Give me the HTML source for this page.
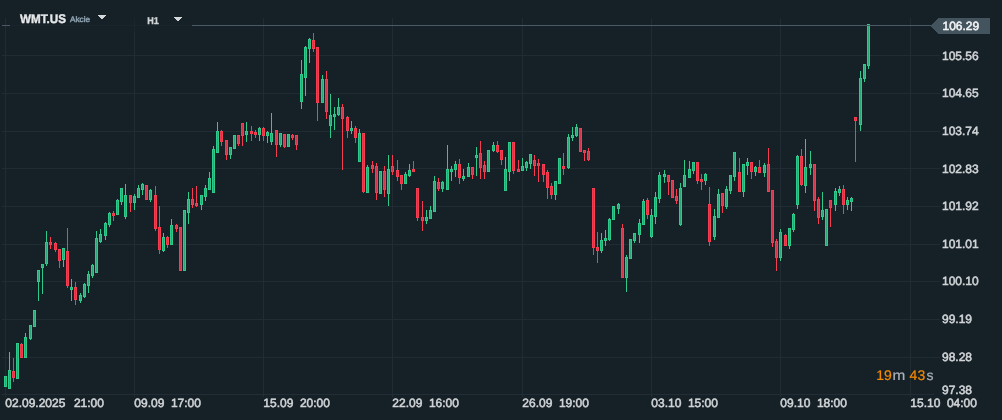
<!DOCTYPE html>
<html><head><meta charset="utf-8"><title>WMT.US H1</title>
<style>
html,body{margin:0;padding:0;background:#162027;}
body{width:1002px;height:420px;overflow:hidden;font-family:"Liberation Sans",sans-serif;}
svg{display:block;}
svg text{font-family:"Liberation Sans",sans-serif;text-rendering:geometricPrecision;}
</style></head><body>
<svg width="1002" height="420" viewBox="0 0 1002 420">
<defs><filter id="gaa" x="0" y="0" width="1002" height="420" filterUnits="userSpaceOnUse"><feOffset dx="0" dy="0"/></filter></defs>
<rect x="0" y="0" width="1002" height="420" fill="#162027"/>
<g shape-rendering="crispEdges">
<rect x="2" y="55" width="938" height="1" fill="#202b33"/>
<rect x="2" y="93" width="938" height="1" fill="#202b33"/>
<rect x="2" y="131" width="938" height="1" fill="#202b33"/>
<rect x="2" y="168" width="938" height="1" fill="#202b33"/>
<rect x="2" y="206" width="938" height="1" fill="#202b33"/>
<rect x="2" y="244" width="938" height="1" fill="#202b33"/>
<rect x="2" y="281" width="938" height="1" fill="#202b33"/>
<rect x="2" y="319" width="938" height="1" fill="#202b33"/>
<rect x="2" y="357" width="938" height="1" fill="#202b33"/>
<rect x="5" y="18" width="1" height="379" fill="#202b33"/>
<rect x="134" y="18" width="1" height="379" fill="#202b33"/>
<rect x="263" y="18" width="1" height="379" fill="#202b33"/>
<rect x="392" y="18" width="1" height="379" fill="#202b33"/>
<rect x="522" y="18" width="1" height="379" fill="#202b33"/>
<rect x="651" y="18" width="1" height="379" fill="#202b33"/>
<rect x="780" y="18" width="1" height="379" fill="#202b33"/>
<rect x="910" y="18" width="1" height="379" fill="#202b33"/>
<rect x="2" y="394" width="932" height="1" fill="#222d35"/>
<rect x="4" y="376" width="3" height="11" fill="#2fc98b"/>
<rect x="5" y="377" width="1" height="9" fill="#28a875"/>
<rect x="9" y="352" width="1" height="37" fill="#2fc98b"/>
<rect x="8" y="370" width="3" height="19" fill="#2fc98b"/>
<rect x="9" y="371" width="1" height="17" fill="#28a875"/>
<rect x="13" y="358" width="1" height="24" fill="#f63c51"/>
<rect x="12" y="371" width="3" height="7" fill="#f63c51"/>
<rect x="13" y="372" width="1" height="5" fill="#d5354b"/>
<rect x="16" y="343" width="3" height="36" fill="#2fc98b"/>
<rect x="17" y="344" width="1" height="34" fill="#28a875"/>
<rect x="21" y="343" width="1" height="15" fill="#f63c51"/>
<rect x="20" y="344" width="3" height="14" fill="#f63c51"/>
<rect x="21" y="345" width="1" height="12" fill="#d5354b"/>
<rect x="25" y="333" width="1" height="25" fill="#2fc98b"/>
<rect x="24" y="337" width="3" height="21" fill="#2fc98b"/>
<rect x="25" y="338" width="1" height="19" fill="#28a875"/>
<rect x="30" y="325" width="1" height="15" fill="#2fc98b"/>
<rect x="29" y="325" width="3" height="14" fill="#2fc98b"/>
<rect x="30" y="326" width="1" height="12" fill="#28a875"/>
<rect x="33" y="310" width="3" height="17" fill="#2fc98b"/>
<rect x="34" y="311" width="1" height="15" fill="#28a875"/>
<rect x="38" y="270" width="1" height="31" fill="#2fc98b"/>
<rect x="37" y="270" width="3" height="12" fill="#2fc98b"/>
<rect x="38" y="271" width="1" height="10" fill="#28a875"/>
<rect x="42" y="264" width="1" height="30" fill="#2fc98b"/>
<rect x="41" y="264" width="3" height="4" fill="#2fc98b"/>
<rect x="42" y="265" width="1" height="2" fill="#28a875"/>
<rect x="46" y="231" width="1" height="35" fill="#2fc98b"/>
<rect x="45" y="242" width="3" height="22" fill="#2fc98b"/>
<rect x="46" y="243" width="1" height="20" fill="#28a875"/>
<rect x="50" y="237" width="1" height="12" fill="#f63c51"/>
<rect x="49" y="242" width="3" height="3" fill="#f63c51"/>
<rect x="50" y="243" width="1" height="1" fill="#d5354b"/>
<rect x="55" y="242" width="1" height="10" fill="#f63c51"/>
<rect x="54" y="243" width="3" height="7" fill="#f63c51"/>
<rect x="55" y="244" width="1" height="5" fill="#d5354b"/>
<rect x="59" y="249" width="1" height="19" fill="#f63c51"/>
<rect x="58" y="249" width="3" height="12" fill="#f63c51"/>
<rect x="59" y="250" width="1" height="10" fill="#d5354b"/>
<rect x="63" y="248" width="1" height="19" fill="#2fc98b"/>
<rect x="62" y="248" width="3" height="12" fill="#2fc98b"/>
<rect x="63" y="249" width="1" height="10" fill="#28a875"/>
<rect x="67" y="228" width="1" height="60" fill="#f63c51"/>
<rect x="66" y="251" width="3" height="35" fill="#f63c51"/>
<rect x="67" y="252" width="1" height="33" fill="#d5354b"/>
<rect x="71" y="279" width="1" height="22" fill="#2fc98b"/>
<rect x="70" y="287" width="3" height="3" fill="#2fc98b"/>
<rect x="71" y="288" width="1" height="1" fill="#28a875"/>
<rect x="75" y="282" width="1" height="23" fill="#f63c51"/>
<rect x="74" y="287" width="3" height="13" fill="#f63c51"/>
<rect x="75" y="288" width="1" height="11" fill="#d5354b"/>
<rect x="80" y="293" width="1" height="10" fill="#2fc98b"/>
<rect x="79" y="295" width="3" height="6" fill="#2fc98b"/>
<rect x="80" y="296" width="1" height="4" fill="#28a875"/>
<rect x="84" y="283" width="1" height="15" fill="#2fc98b"/>
<rect x="83" y="284" width="3" height="13" fill="#2fc98b"/>
<rect x="84" y="285" width="1" height="11" fill="#28a875"/>
<rect x="88" y="271" width="1" height="22" fill="#2fc98b"/>
<rect x="87" y="274" width="3" height="12" fill="#2fc98b"/>
<rect x="88" y="275" width="1" height="10" fill="#28a875"/>
<rect x="92" y="264" width="1" height="14" fill="#2fc98b"/>
<rect x="91" y="265" width="3" height="11" fill="#2fc98b"/>
<rect x="92" y="266" width="1" height="9" fill="#28a875"/>
<rect x="96" y="231" width="1" height="42" fill="#2fc98b"/>
<rect x="95" y="238" width="3" height="35" fill="#2fc98b"/>
<rect x="96" y="239" width="1" height="33" fill="#28a875"/>
<rect x="100" y="229" width="1" height="14" fill="#2fc98b"/>
<rect x="99" y="234" width="3" height="8" fill="#2fc98b"/>
<rect x="100" y="235" width="1" height="6" fill="#28a875"/>
<rect x="105" y="222" width="1" height="18" fill="#2fc98b"/>
<rect x="104" y="223" width="3" height="13" fill="#2fc98b"/>
<rect x="105" y="224" width="1" height="11" fill="#28a875"/>
<rect x="109" y="212" width="1" height="15" fill="#2fc98b"/>
<rect x="108" y="213" width="3" height="12" fill="#2fc98b"/>
<rect x="109" y="214" width="1" height="10" fill="#28a875"/>
<rect x="113" y="211" width="1" height="10" fill="#f63c51"/>
<rect x="112" y="213" width="3" height="3" fill="#f63c51"/>
<rect x="113" y="214" width="1" height="1" fill="#d5354b"/>
<rect x="117" y="199" width="1" height="16" fill="#2fc98b"/>
<rect x="116" y="200" width="3" height="15" fill="#2fc98b"/>
<rect x="117" y="201" width="1" height="13" fill="#28a875"/>
<rect x="121" y="188" width="1" height="17" fill="#2fc98b"/>
<rect x="120" y="188" width="3" height="14" fill="#2fc98b"/>
<rect x="121" y="189" width="1" height="12" fill="#28a875"/>
<rect x="125" y="184" width="1" height="35" fill="#2fc98b"/>
<rect x="124" y="195" width="3" height="22" fill="#2fc98b"/>
<rect x="125" y="196" width="1" height="20" fill="#28a875"/>
<rect x="130" y="195" width="1" height="17" fill="#f63c51"/>
<rect x="129" y="195" width="3" height="8" fill="#f63c51"/>
<rect x="130" y="196" width="1" height="6" fill="#d5354b"/>
<rect x="134" y="194" width="1" height="16" fill="#2fc98b"/>
<rect x="133" y="196" width="3" height="7" fill="#2fc98b"/>
<rect x="134" y="197" width="1" height="5" fill="#28a875"/>
<rect x="138" y="185" width="1" height="13" fill="#2fc98b"/>
<rect x="137" y="188" width="3" height="10" fill="#2fc98b"/>
<rect x="138" y="189" width="1" height="8" fill="#28a875"/>
<rect x="142" y="183" width="1" height="12" fill="#2fc98b"/>
<rect x="141" y="184" width="3" height="6" fill="#2fc98b"/>
<rect x="142" y="185" width="1" height="4" fill="#28a875"/>
<rect x="145" y="185" width="3" height="15" fill="#f63c51"/>
<rect x="146" y="186" width="1" height="13" fill="#d5354b"/>
<rect x="150" y="189" width="1" height="13" fill="#2fc98b"/>
<rect x="149" y="190" width="3" height="10" fill="#2fc98b"/>
<rect x="150" y="191" width="1" height="8" fill="#28a875"/>
<rect x="155" y="186" width="1" height="45" fill="#f63c51"/>
<rect x="154" y="195" width="3" height="34" fill="#f63c51"/>
<rect x="155" y="196" width="1" height="32" fill="#d5354b"/>
<rect x="159" y="206" width="1" height="48" fill="#f63c51"/>
<rect x="158" y="227" width="3" height="23" fill="#f63c51"/>
<rect x="159" y="228" width="1" height="21" fill="#d5354b"/>
<rect x="163" y="233" width="1" height="19" fill="#2fc98b"/>
<rect x="162" y="237" width="3" height="14" fill="#2fc98b"/>
<rect x="163" y="238" width="1" height="12" fill="#28a875"/>
<rect x="167" y="236" width="1" height="12" fill="#f63c51"/>
<rect x="166" y="237" width="3" height="8" fill="#f63c51"/>
<rect x="167" y="238" width="1" height="6" fill="#d5354b"/>
<rect x="171" y="219" width="1" height="26" fill="#2fc98b"/>
<rect x="170" y="225" width="3" height="20" fill="#2fc98b"/>
<rect x="171" y="226" width="1" height="18" fill="#28a875"/>
<rect x="176" y="224" width="1" height="8" fill="#f63c51"/>
<rect x="175" y="225" width="3" height="4" fill="#f63c51"/>
<rect x="176" y="226" width="1" height="2" fill="#d5354b"/>
<rect x="179" y="227" width="3" height="44" fill="#f63c51"/>
<rect x="180" y="228" width="1" height="42" fill="#d5354b"/>
<rect x="183" y="210" width="3" height="61" fill="#2fc98b"/>
<rect x="184" y="211" width="1" height="59" fill="#28a875"/>
<rect x="188" y="192" width="1" height="32" fill="#2fc98b"/>
<rect x="187" y="199" width="3" height="14" fill="#2fc98b"/>
<rect x="188" y="200" width="1" height="12" fill="#28a875"/>
<rect x="192" y="188" width="1" height="20" fill="#f63c51"/>
<rect x="191" y="199" width="3" height="6" fill="#f63c51"/>
<rect x="192" y="200" width="1" height="4" fill="#d5354b"/>
<rect x="196" y="186" width="1" height="21" fill="#f63c51"/>
<rect x="195" y="203" width="3" height="3" fill="#f63c51"/>
<rect x="196" y="204" width="1" height="1" fill="#d5354b"/>
<rect x="201" y="195" width="1" height="15" fill="#2fc98b"/>
<rect x="200" y="195" width="3" height="10" fill="#2fc98b"/>
<rect x="201" y="196" width="1" height="8" fill="#28a875"/>
<rect x="205" y="185" width="1" height="16" fill="#2fc98b"/>
<rect x="204" y="188" width="3" height="9" fill="#2fc98b"/>
<rect x="205" y="189" width="1" height="7" fill="#28a875"/>
<rect x="209" y="172" width="1" height="18" fill="#2fc98b"/>
<rect x="208" y="178" width="3" height="12" fill="#2fc98b"/>
<rect x="209" y="179" width="1" height="10" fill="#28a875"/>
<rect x="213" y="146" width="1" height="47" fill="#2fc98b"/>
<rect x="212" y="149" width="3" height="44" fill="#2fc98b"/>
<rect x="213" y="150" width="1" height="42" fill="#28a875"/>
<rect x="217" y="122" width="1" height="31" fill="#2fc98b"/>
<rect x="216" y="131" width="3" height="22" fill="#2fc98b"/>
<rect x="217" y="132" width="1" height="20" fill="#28a875"/>
<rect x="221" y="130" width="1" height="16" fill="#f63c51"/>
<rect x="220" y="131" width="3" height="11" fill="#f63c51"/>
<rect x="221" y="132" width="1" height="9" fill="#d5354b"/>
<rect x="226" y="140" width="1" height="20" fill="#f63c51"/>
<rect x="225" y="140" width="3" height="15" fill="#f63c51"/>
<rect x="226" y="141" width="1" height="13" fill="#d5354b"/>
<rect x="230" y="147" width="1" height="12" fill="#2fc98b"/>
<rect x="229" y="147" width="3" height="8" fill="#2fc98b"/>
<rect x="230" y="148" width="1" height="6" fill="#28a875"/>
<rect x="233" y="135" width="3" height="14" fill="#2fc98b"/>
<rect x="234" y="136" width="1" height="12" fill="#28a875"/>
<rect x="238" y="135" width="1" height="11" fill="#f63c51"/>
<rect x="237" y="135" width="3" height="9" fill="#f63c51"/>
<rect x="238" y="136" width="1" height="7" fill="#d5354b"/>
<rect x="242" y="123" width="1" height="23" fill="#f63c51"/>
<rect x="241" y="123" width="3" height="13" fill="#f63c51"/>
<rect x="242" y="124" width="1" height="11" fill="#d5354b"/>
<rect x="246" y="122" width="1" height="20" fill="#2fc98b"/>
<rect x="245" y="131" width="3" height="4" fill="#2fc98b"/>
<rect x="246" y="132" width="1" height="2" fill="#28a875"/>
<rect x="251" y="126" width="1" height="15" fill="#f63c51"/>
<rect x="250" y="131" width="3" height="3" fill="#f63c51"/>
<rect x="251" y="132" width="1" height="1" fill="#d5354b"/>
<rect x="255" y="130" width="1" height="8" fill="#f63c51"/>
<rect x="254" y="132" width="3" height="3" fill="#f63c51"/>
<rect x="255" y="133" width="1" height="1" fill="#d5354b"/>
<rect x="259" y="127" width="1" height="14" fill="#2fc98b"/>
<rect x="258" y="128" width="3" height="7" fill="#2fc98b"/>
<rect x="259" y="129" width="1" height="5" fill="#28a875"/>
<rect x="263" y="127" width="1" height="14" fill="#f63c51"/>
<rect x="262" y="128" width="3" height="8" fill="#f63c51"/>
<rect x="263" y="129" width="1" height="6" fill="#d5354b"/>
<rect x="267" y="131" width="1" height="12" fill="#2fc98b"/>
<rect x="266" y="132" width="3" height="4" fill="#2fc98b"/>
<rect x="267" y="133" width="1" height="2" fill="#28a875"/>
<rect x="271" y="113" width="1" height="32" fill="#2fc98b"/>
<rect x="270" y="133" width="3" height="9" fill="#2fc98b"/>
<rect x="271" y="134" width="1" height="7" fill="#28a875"/>
<rect x="276" y="130" width="1" height="27" fill="#f63c51"/>
<rect x="275" y="130" width="3" height="15" fill="#f63c51"/>
<rect x="276" y="131" width="1" height="13" fill="#d5354b"/>
<rect x="280" y="133" width="1" height="14" fill="#2fc98b"/>
<rect x="279" y="133" width="3" height="12" fill="#2fc98b"/>
<rect x="280" y="134" width="1" height="10" fill="#28a875"/>
<rect x="284" y="134" width="1" height="14" fill="#f63c51"/>
<rect x="283" y="134" width="3" height="13" fill="#f63c51"/>
<rect x="284" y="135" width="1" height="11" fill="#d5354b"/>
<rect x="287" y="134" width="3" height="13" fill="#2fc98b"/>
<rect x="288" y="135" width="1" height="11" fill="#28a875"/>
<rect x="292" y="134" width="1" height="6" fill="#f63c51"/>
<rect x="291" y="135" width="3" height="3" fill="#f63c51"/>
<rect x="292" y="136" width="1" height="1" fill="#d5354b"/>
<rect x="296" y="135" width="1" height="15" fill="#f63c51"/>
<rect x="295" y="135" width="3" height="10" fill="#f63c51"/>
<rect x="296" y="136" width="1" height="8" fill="#d5354b"/>
<rect x="301" y="60" width="1" height="49" fill="#2fc98b"/>
<rect x="300" y="74" width="3" height="28" fill="#2fc98b"/>
<rect x="301" y="75" width="1" height="26" fill="#28a875"/>
<rect x="305" y="46" width="1" height="50" fill="#2fc98b"/>
<rect x="304" y="47" width="3" height="31" fill="#2fc98b"/>
<rect x="305" y="48" width="1" height="29" fill="#28a875"/>
<rect x="309" y="38" width="1" height="25" fill="#2fc98b"/>
<rect x="308" y="39" width="3" height="10" fill="#2fc98b"/>
<rect x="309" y="40" width="1" height="8" fill="#28a875"/>
<rect x="313" y="33" width="1" height="19" fill="#f63c51"/>
<rect x="312" y="40" width="3" height="9" fill="#f63c51"/>
<rect x="313" y="41" width="1" height="7" fill="#d5354b"/>
<rect x="317" y="47" width="1" height="74" fill="#f63c51"/>
<rect x="316" y="47" width="3" height="56" fill="#f63c51"/>
<rect x="317" y="48" width="1" height="54" fill="#d5354b"/>
<rect x="322" y="75" width="1" height="28" fill="#2fc98b"/>
<rect x="321" y="79" width="3" height="24" fill="#2fc98b"/>
<rect x="322" y="80" width="1" height="22" fill="#28a875"/>
<rect x="326" y="71" width="1" height="48" fill="#f63c51"/>
<rect x="325" y="79" width="3" height="33" fill="#f63c51"/>
<rect x="326" y="80" width="1" height="31" fill="#d5354b"/>
<rect x="330" y="94" width="1" height="44" fill="#2fc98b"/>
<rect x="329" y="115" width="3" height="11" fill="#2fc98b"/>
<rect x="330" y="116" width="1" height="9" fill="#28a875"/>
<rect x="334" y="107" width="1" height="23" fill="#2fc98b"/>
<rect x="333" y="114" width="3" height="3" fill="#2fc98b"/>
<rect x="334" y="115" width="1" height="1" fill="#28a875"/>
<rect x="338" y="98" width="1" height="18" fill="#2fc98b"/>
<rect x="337" y="107" width="3" height="8" fill="#2fc98b"/>
<rect x="338" y="108" width="1" height="6" fill="#28a875"/>
<rect x="342" y="104" width="1" height="66" fill="#f63c51"/>
<rect x="341" y="107" width="3" height="12" fill="#f63c51"/>
<rect x="342" y="108" width="1" height="10" fill="#d5354b"/>
<rect x="347" y="116" width="1" height="22" fill="#f63c51"/>
<rect x="346" y="117" width="3" height="14" fill="#f63c51"/>
<rect x="347" y="118" width="1" height="12" fill="#d5354b"/>
<rect x="351" y="121" width="1" height="13" fill="#2fc98b"/>
<rect x="350" y="128" width="3" height="3" fill="#2fc98b"/>
<rect x="351" y="129" width="1" height="1" fill="#28a875"/>
<rect x="355" y="126" width="1" height="17" fill="#f63c51"/>
<rect x="354" y="128" width="3" height="10" fill="#f63c51"/>
<rect x="355" y="129" width="1" height="8" fill="#d5354b"/>
<rect x="359" y="129" width="1" height="33" fill="#2fc98b"/>
<rect x="358" y="133" width="3" height="29" fill="#2fc98b"/>
<rect x="359" y="134" width="1" height="27" fill="#28a875"/>
<rect x="363" y="133" width="1" height="60" fill="#f63c51"/>
<rect x="362" y="133" width="3" height="59" fill="#f63c51"/>
<rect x="363" y="134" width="1" height="57" fill="#d5354b"/>
<rect x="367" y="165" width="1" height="28" fill="#2fc98b"/>
<rect x="366" y="167" width="3" height="26" fill="#2fc98b"/>
<rect x="367" y="168" width="1" height="24" fill="#28a875"/>
<rect x="372" y="161" width="1" height="12" fill="#f63c51"/>
<rect x="371" y="165" width="3" height="4" fill="#f63c51"/>
<rect x="372" y="166" width="1" height="2" fill="#d5354b"/>
<rect x="376" y="163" width="1" height="37" fill="#f63c51"/>
<rect x="375" y="166" width="3" height="27" fill="#f63c51"/>
<rect x="376" y="167" width="1" height="25" fill="#d5354b"/>
<rect x="379" y="171" width="3" height="23" fill="#2fc98b"/>
<rect x="380" y="172" width="1" height="21" fill="#28a875"/>
<rect x="384" y="166" width="1" height="31" fill="#f63c51"/>
<rect x="383" y="171" width="3" height="19" fill="#f63c51"/>
<rect x="384" y="172" width="1" height="17" fill="#d5354b"/>
<rect x="388" y="155" width="1" height="51" fill="#2fc98b"/>
<rect x="387" y="169" width="3" height="25" fill="#2fc98b"/>
<rect x="388" y="170" width="1" height="23" fill="#28a875"/>
<rect x="392" y="155" width="1" height="20" fill="#f63c51"/>
<rect x="391" y="166" width="3" height="6" fill="#f63c51"/>
<rect x="392" y="167" width="1" height="4" fill="#d5354b"/>
<rect x="397" y="160" width="1" height="21" fill="#f63c51"/>
<rect x="396" y="170" width="3" height="7" fill="#f63c51"/>
<rect x="397" y="171" width="1" height="5" fill="#d5354b"/>
<rect x="401" y="175" width="1" height="15" fill="#f63c51"/>
<rect x="400" y="175" width="3" height="9" fill="#f63c51"/>
<rect x="401" y="176" width="1" height="7" fill="#d5354b"/>
<rect x="405" y="172" width="1" height="12" fill="#2fc98b"/>
<rect x="404" y="174" width="3" height="10" fill="#2fc98b"/>
<rect x="405" y="175" width="1" height="8" fill="#28a875"/>
<rect x="409" y="164" width="1" height="13" fill="#2fc98b"/>
<rect x="408" y="170" width="3" height="6" fill="#2fc98b"/>
<rect x="409" y="171" width="1" height="4" fill="#28a875"/>
<rect x="413" y="161" width="1" height="11" fill="#f63c51"/>
<rect x="412" y="169" width="3" height="3" fill="#f63c51"/>
<rect x="413" y="170" width="1" height="1" fill="#d5354b"/>
<rect x="417" y="188" width="1" height="33" fill="#f63c51"/>
<rect x="416" y="188" width="3" height="30" fill="#f63c51"/>
<rect x="417" y="189" width="1" height="28" fill="#d5354b"/>
<rect x="422" y="201" width="1" height="30" fill="#f63c51"/>
<rect x="421" y="217" width="3" height="4" fill="#f63c51"/>
<rect x="422" y="218" width="1" height="2" fill="#d5354b"/>
<rect x="426" y="210" width="1" height="14" fill="#2fc98b"/>
<rect x="425" y="217" width="3" height="4" fill="#2fc98b"/>
<rect x="426" y="218" width="1" height="2" fill="#28a875"/>
<rect x="430" y="206" width="1" height="13" fill="#2fc98b"/>
<rect x="429" y="210" width="3" height="9" fill="#2fc98b"/>
<rect x="430" y="211" width="1" height="7" fill="#28a875"/>
<rect x="434" y="176" width="1" height="36" fill="#2fc98b"/>
<rect x="433" y="181" width="3" height="31" fill="#2fc98b"/>
<rect x="434" y="182" width="1" height="29" fill="#28a875"/>
<rect x="438" y="178" width="1" height="13" fill="#f63c51"/>
<rect x="437" y="182" width="3" height="7" fill="#f63c51"/>
<rect x="438" y="183" width="1" height="5" fill="#d5354b"/>
<rect x="442" y="181" width="1" height="11" fill="#2fc98b"/>
<rect x="441" y="182" width="3" height="7" fill="#2fc98b"/>
<rect x="442" y="183" width="1" height="5" fill="#28a875"/>
<rect x="447" y="145" width="1" height="45" fill="#2fc98b"/>
<rect x="446" y="169" width="3" height="21" fill="#2fc98b"/>
<rect x="447" y="170" width="1" height="19" fill="#28a875"/>
<rect x="451" y="166" width="1" height="15" fill="#2fc98b"/>
<rect x="450" y="169" width="3" height="3" fill="#2fc98b"/>
<rect x="451" y="170" width="1" height="1" fill="#28a875"/>
<rect x="455" y="161" width="1" height="16" fill="#2fc98b"/>
<rect x="454" y="164" width="3" height="6" fill="#2fc98b"/>
<rect x="455" y="165" width="1" height="4" fill="#28a875"/>
<rect x="459" y="159" width="1" height="25" fill="#f63c51"/>
<rect x="458" y="164" width="3" height="14" fill="#f63c51"/>
<rect x="459" y="165" width="1" height="12" fill="#d5354b"/>
<rect x="463" y="169" width="1" height="12" fill="#2fc98b"/>
<rect x="462" y="176" width="3" height="3" fill="#2fc98b"/>
<rect x="463" y="177" width="1" height="1" fill="#28a875"/>
<rect x="468" y="163" width="1" height="14" fill="#2fc98b"/>
<rect x="467" y="167" width="3" height="10" fill="#2fc98b"/>
<rect x="468" y="168" width="1" height="8" fill="#28a875"/>
<rect x="472" y="167" width="1" height="12" fill="#f63c51"/>
<rect x="471" y="167" width="3" height="8" fill="#f63c51"/>
<rect x="472" y="168" width="1" height="6" fill="#d5354b"/>
<rect x="476" y="147" width="1" height="29" fill="#2fc98b"/>
<rect x="475" y="155" width="3" height="3" fill="#2fc98b"/>
<rect x="476" y="156" width="1" height="1" fill="#28a875"/>
<rect x="480" y="141" width="1" height="38" fill="#f63c51"/>
<rect x="479" y="153" width="3" height="15" fill="#f63c51"/>
<rect x="480" y="154" width="1" height="13" fill="#d5354b"/>
<rect x="484" y="161" width="1" height="18" fill="#f63c51"/>
<rect x="483" y="165" width="3" height="7" fill="#f63c51"/>
<rect x="484" y="166" width="1" height="5" fill="#d5354b"/>
<rect x="487" y="150" width="3" height="22" fill="#2fc98b"/>
<rect x="488" y="151" width="1" height="20" fill="#28a875"/>
<rect x="493" y="142" width="1" height="10" fill="#2fc98b"/>
<rect x="492" y="145" width="3" height="6" fill="#2fc98b"/>
<rect x="493" y="146" width="1" height="4" fill="#28a875"/>
<rect x="497" y="141" width="1" height="12" fill="#f63c51"/>
<rect x="496" y="145" width="3" height="7" fill="#f63c51"/>
<rect x="497" y="146" width="1" height="5" fill="#d5354b"/>
<rect x="501" y="150" width="1" height="15" fill="#f63c51"/>
<rect x="500" y="150" width="3" height="10" fill="#f63c51"/>
<rect x="501" y="151" width="1" height="8" fill="#d5354b"/>
<rect x="505" y="157" width="1" height="34" fill="#2fc98b"/>
<rect x="504" y="169" width="3" height="22" fill="#2fc98b"/>
<rect x="505" y="170" width="1" height="20" fill="#28a875"/>
<rect x="509" y="142" width="1" height="39" fill="#2fc98b"/>
<rect x="508" y="142" width="3" height="30" fill="#2fc98b"/>
<rect x="509" y="143" width="1" height="28" fill="#28a875"/>
<rect x="513" y="142" width="1" height="32" fill="#f63c51"/>
<rect x="512" y="142" width="3" height="29" fill="#f63c51"/>
<rect x="513" y="143" width="1" height="27" fill="#d5354b"/>
<rect x="518" y="160" width="1" height="12" fill="#f63c51"/>
<rect x="517" y="169" width="3" height="3" fill="#f63c51"/>
<rect x="518" y="170" width="1" height="1" fill="#d5354b"/>
<rect x="522" y="158" width="1" height="13" fill="#2fc98b"/>
<rect x="521" y="166" width="3" height="5" fill="#2fc98b"/>
<rect x="522" y="167" width="1" height="3" fill="#28a875"/>
<rect x="526" y="161" width="1" height="10" fill="#2fc98b"/>
<rect x="525" y="162" width="3" height="6" fill="#2fc98b"/>
<rect x="526" y="163" width="1" height="4" fill="#28a875"/>
<rect x="530" y="154" width="1" height="15" fill="#2fc98b"/>
<rect x="529" y="154" width="3" height="10" fill="#2fc98b"/>
<rect x="530" y="155" width="1" height="8" fill="#28a875"/>
<rect x="534" y="155" width="1" height="21" fill="#f63c51"/>
<rect x="533" y="160" width="3" height="6" fill="#f63c51"/>
<rect x="534" y="161" width="1" height="4" fill="#d5354b"/>
<rect x="538" y="159" width="1" height="23" fill="#f63c51"/>
<rect x="537" y="163" width="3" height="3" fill="#f63c51"/>
<rect x="538" y="164" width="1" height="1" fill="#d5354b"/>
<rect x="543" y="164" width="1" height="18" fill="#f63c51"/>
<rect x="542" y="164" width="3" height="11" fill="#f63c51"/>
<rect x="543" y="165" width="1" height="9" fill="#d5354b"/>
<rect x="547" y="170" width="1" height="29" fill="#f63c51"/>
<rect x="546" y="172" width="3" height="16" fill="#f63c51"/>
<rect x="547" y="173" width="1" height="14" fill="#d5354b"/>
<rect x="551" y="183" width="1" height="16" fill="#f63c51"/>
<rect x="550" y="186" width="3" height="9" fill="#f63c51"/>
<rect x="551" y="187" width="1" height="7" fill="#d5354b"/>
<rect x="555" y="181" width="1" height="19" fill="#2fc98b"/>
<rect x="554" y="181" width="3" height="14" fill="#2fc98b"/>
<rect x="555" y="182" width="1" height="12" fill="#28a875"/>
<rect x="558" y="158" width="3" height="26" fill="#2fc98b"/>
<rect x="559" y="159" width="1" height="24" fill="#28a875"/>
<rect x="563" y="153" width="1" height="22" fill="#f63c51"/>
<rect x="562" y="166" width="3" height="3" fill="#f63c51"/>
<rect x="563" y="167" width="1" height="1" fill="#d5354b"/>
<rect x="568" y="134" width="1" height="35" fill="#2fc98b"/>
<rect x="567" y="137" width="3" height="31" fill="#2fc98b"/>
<rect x="568" y="138" width="1" height="29" fill="#28a875"/>
<rect x="572" y="127" width="1" height="14" fill="#2fc98b"/>
<rect x="571" y="135" width="3" height="3" fill="#2fc98b"/>
<rect x="572" y="136" width="1" height="1" fill="#28a875"/>
<rect x="576" y="124" width="1" height="13" fill="#2fc98b"/>
<rect x="575" y="127" width="3" height="9" fill="#2fc98b"/>
<rect x="576" y="128" width="1" height="7" fill="#28a875"/>
<rect x="579" y="128" width="3" height="24" fill="#f63c51"/>
<rect x="580" y="129" width="1" height="22" fill="#d5354b"/>
<rect x="584" y="150" width="1" height="11" fill="#f63c51"/>
<rect x="583" y="150" width="3" height="3" fill="#f63c51"/>
<rect x="584" y="151" width="1" height="1" fill="#d5354b"/>
<rect x="588" y="148" width="1" height="13" fill="#f63c51"/>
<rect x="587" y="151" width="3" height="9" fill="#f63c51"/>
<rect x="588" y="152" width="1" height="7" fill="#d5354b"/>
<rect x="593" y="188" width="1" height="67" fill="#f63c51"/>
<rect x="592" y="188" width="3" height="60" fill="#f63c51"/>
<rect x="593" y="189" width="1" height="58" fill="#d5354b"/>
<rect x="597" y="232" width="1" height="31" fill="#f63c51"/>
<rect x="596" y="247" width="3" height="4" fill="#f63c51"/>
<rect x="597" y="248" width="1" height="2" fill="#d5354b"/>
<rect x="601" y="233" width="1" height="20" fill="#2fc98b"/>
<rect x="600" y="240" width="3" height="11" fill="#2fc98b"/>
<rect x="601" y="241" width="1" height="9" fill="#28a875"/>
<rect x="605" y="230" width="1" height="16" fill="#2fc98b"/>
<rect x="604" y="238" width="3" height="3" fill="#2fc98b"/>
<rect x="605" y="239" width="1" height="1" fill="#28a875"/>
<rect x="609" y="218" width="1" height="23" fill="#2fc98b"/>
<rect x="608" y="219" width="3" height="21" fill="#2fc98b"/>
<rect x="609" y="220" width="1" height="19" fill="#28a875"/>
<rect x="612" y="206" width="3" height="14" fill="#2fc98b"/>
<rect x="613" y="207" width="1" height="12" fill="#28a875"/>
<rect x="618" y="203" width="1" height="11" fill="#2fc98b"/>
<rect x="617" y="204" width="3" height="5" fill="#2fc98b"/>
<rect x="618" y="205" width="1" height="3" fill="#28a875"/>
<rect x="622" y="224" width="1" height="54" fill="#f63c51"/>
<rect x="621" y="228" width="3" height="50" fill="#f63c51"/>
<rect x="622" y="229" width="1" height="48" fill="#d5354b"/>
<rect x="626" y="255" width="1" height="37" fill="#2fc98b"/>
<rect x="625" y="257" width="3" height="21" fill="#2fc98b"/>
<rect x="626" y="258" width="1" height="19" fill="#28a875"/>
<rect x="629" y="239" width="3" height="20" fill="#2fc98b"/>
<rect x="630" y="240" width="1" height="18" fill="#28a875"/>
<rect x="634" y="233" width="1" height="10" fill="#2fc98b"/>
<rect x="633" y="233" width="3" height="8" fill="#2fc98b"/>
<rect x="634" y="234" width="1" height="6" fill="#28a875"/>
<rect x="639" y="219" width="1" height="24" fill="#2fc98b"/>
<rect x="638" y="223" width="3" height="12" fill="#2fc98b"/>
<rect x="639" y="224" width="1" height="10" fill="#28a875"/>
<rect x="643" y="199" width="1" height="26" fill="#2fc98b"/>
<rect x="642" y="201" width="3" height="24" fill="#2fc98b"/>
<rect x="643" y="202" width="1" height="22" fill="#28a875"/>
<rect x="647" y="198" width="1" height="21" fill="#f63c51"/>
<rect x="646" y="200" width="3" height="15" fill="#f63c51"/>
<rect x="647" y="201" width="1" height="13" fill="#d5354b"/>
<rect x="651" y="209" width="1" height="29" fill="#2fc98b"/>
<rect x="650" y="215" width="3" height="22" fill="#2fc98b"/>
<rect x="651" y="216" width="1" height="20" fill="#28a875"/>
<rect x="655" y="192" width="1" height="32" fill="#2fc98b"/>
<rect x="654" y="197" width="3" height="20" fill="#2fc98b"/>
<rect x="655" y="198" width="1" height="18" fill="#28a875"/>
<rect x="659" y="172" width="1" height="31" fill="#2fc98b"/>
<rect x="658" y="175" width="3" height="24" fill="#2fc98b"/>
<rect x="659" y="176" width="1" height="22" fill="#28a875"/>
<rect x="664" y="170" width="1" height="13" fill="#2fc98b"/>
<rect x="663" y="174" width="3" height="3" fill="#2fc98b"/>
<rect x="664" y="175" width="1" height="1" fill="#28a875"/>
<rect x="668" y="175" width="1" height="20" fill="#f63c51"/>
<rect x="667" y="175" width="3" height="7" fill="#f63c51"/>
<rect x="668" y="176" width="1" height="5" fill="#d5354b"/>
<rect x="671" y="180" width="3" height="18" fill="#f63c51"/>
<rect x="672" y="181" width="1" height="16" fill="#d5354b"/>
<rect x="676" y="189" width="1" height="15" fill="#f63c51"/>
<rect x="675" y="196" width="3" height="5" fill="#f63c51"/>
<rect x="676" y="197" width="1" height="3" fill="#d5354b"/>
<rect x="680" y="183" width="1" height="43" fill="#2fc98b"/>
<rect x="679" y="188" width="3" height="37" fill="#2fc98b"/>
<rect x="680" y="189" width="1" height="35" fill="#28a875"/>
<rect x="684" y="160" width="1" height="27" fill="#2fc98b"/>
<rect x="683" y="175" width="3" height="12" fill="#2fc98b"/>
<rect x="684" y="176" width="1" height="10" fill="#28a875"/>
<rect x="689" y="161" width="1" height="17" fill="#2fc98b"/>
<rect x="688" y="169" width="3" height="9" fill="#2fc98b"/>
<rect x="689" y="170" width="1" height="7" fill="#28a875"/>
<rect x="693" y="162" width="1" height="12" fill="#2fc98b"/>
<rect x="692" y="162" width="3" height="9" fill="#2fc98b"/>
<rect x="693" y="163" width="1" height="7" fill="#28a875"/>
<rect x="697" y="162" width="1" height="22" fill="#f63c51"/>
<rect x="696" y="162" width="3" height="19" fill="#f63c51"/>
<rect x="697" y="163" width="1" height="17" fill="#d5354b"/>
<rect x="701" y="174" width="1" height="16" fill="#f63c51"/>
<rect x="700" y="179" width="3" height="3" fill="#f63c51"/>
<rect x="701" y="180" width="1" height="1" fill="#d5354b"/>
<rect x="705" y="173" width="1" height="12" fill="#2fc98b"/>
<rect x="704" y="174" width="3" height="7" fill="#2fc98b"/>
<rect x="705" y="175" width="1" height="5" fill="#28a875"/>
<rect x="709" y="187" width="1" height="59" fill="#f63c51"/>
<rect x="708" y="204" width="3" height="38" fill="#f63c51"/>
<rect x="709" y="205" width="1" height="36" fill="#d5354b"/>
<rect x="714" y="209" width="1" height="31" fill="#2fc98b"/>
<rect x="713" y="216" width="3" height="21" fill="#2fc98b"/>
<rect x="714" y="217" width="1" height="19" fill="#28a875"/>
<rect x="718" y="189" width="1" height="29" fill="#2fc98b"/>
<rect x="717" y="194" width="3" height="24" fill="#2fc98b"/>
<rect x="718" y="195" width="1" height="22" fill="#28a875"/>
<rect x="722" y="193" width="1" height="20" fill="#f63c51"/>
<rect x="721" y="193" width="3" height="13" fill="#f63c51"/>
<rect x="722" y="194" width="1" height="11" fill="#d5354b"/>
<rect x="726" y="186" width="1" height="23" fill="#2fc98b"/>
<rect x="725" y="189" width="3" height="18" fill="#2fc98b"/>
<rect x="726" y="190" width="1" height="16" fill="#28a875"/>
<rect x="730" y="175" width="1" height="19" fill="#2fc98b"/>
<rect x="729" y="175" width="3" height="16" fill="#2fc98b"/>
<rect x="730" y="176" width="1" height="14" fill="#28a875"/>
<rect x="734" y="152" width="1" height="29" fill="#2fc98b"/>
<rect x="733" y="152" width="3" height="25" fill="#2fc98b"/>
<rect x="734" y="153" width="1" height="23" fill="#28a875"/>
<rect x="739" y="158" width="1" height="34" fill="#f63c51"/>
<rect x="738" y="172" width="3" height="20" fill="#f63c51"/>
<rect x="739" y="173" width="1" height="18" fill="#d5354b"/>
<rect x="743" y="164" width="1" height="33" fill="#2fc98b"/>
<rect x="742" y="164" width="3" height="28" fill="#2fc98b"/>
<rect x="743" y="165" width="1" height="26" fill="#28a875"/>
<rect x="747" y="158" width="1" height="17" fill="#2fc98b"/>
<rect x="746" y="162" width="3" height="4" fill="#2fc98b"/>
<rect x="747" y="163" width="1" height="2" fill="#28a875"/>
<rect x="751" y="162" width="1" height="17" fill="#f63c51"/>
<rect x="750" y="162" width="3" height="10" fill="#f63c51"/>
<rect x="751" y="163" width="1" height="8" fill="#d5354b"/>
<rect x="755" y="166" width="1" height="10" fill="#2fc98b"/>
<rect x="754" y="167" width="3" height="5" fill="#2fc98b"/>
<rect x="755" y="168" width="1" height="3" fill="#28a875"/>
<rect x="759" y="160" width="1" height="13" fill="#f63c51"/>
<rect x="758" y="167" width="3" height="6" fill="#f63c51"/>
<rect x="759" y="168" width="1" height="4" fill="#d5354b"/>
<rect x="764" y="163" width="1" height="14" fill="#2fc98b"/>
<rect x="763" y="165" width="3" height="8" fill="#2fc98b"/>
<rect x="764" y="166" width="1" height="6" fill="#28a875"/>
<rect x="768" y="148" width="1" height="44" fill="#f63c51"/>
<rect x="767" y="164" width="3" height="28" fill="#f63c51"/>
<rect x="768" y="165" width="1" height="26" fill="#d5354b"/>
<rect x="772" y="190" width="1" height="57" fill="#f63c51"/>
<rect x="771" y="190" width="3" height="53" fill="#f63c51"/>
<rect x="772" y="191" width="1" height="51" fill="#d5354b"/>
<rect x="776" y="239" width="1" height="32" fill="#f63c51"/>
<rect x="775" y="241" width="3" height="17" fill="#f63c51"/>
<rect x="776" y="242" width="1" height="15" fill="#d5354b"/>
<rect x="780" y="229" width="1" height="32" fill="#2fc98b"/>
<rect x="779" y="232" width="3" height="26" fill="#2fc98b"/>
<rect x="780" y="233" width="1" height="24" fill="#28a875"/>
<rect x="785" y="234" width="1" height="12" fill="#f63c51"/>
<rect x="784" y="235" width="3" height="11" fill="#f63c51"/>
<rect x="785" y="236" width="1" height="9" fill="#d5354b"/>
<rect x="789" y="228" width="1" height="21" fill="#2fc98b"/>
<rect x="788" y="228" width="3" height="18" fill="#2fc98b"/>
<rect x="789" y="229" width="1" height="16" fill="#28a875"/>
<rect x="793" y="213" width="1" height="19" fill="#2fc98b"/>
<rect x="792" y="214" width="3" height="16" fill="#2fc98b"/>
<rect x="793" y="215" width="1" height="14" fill="#28a875"/>
<rect x="797" y="155" width="1" height="54" fill="#2fc98b"/>
<rect x="796" y="156" width="3" height="49" fill="#2fc98b"/>
<rect x="797" y="157" width="1" height="47" fill="#28a875"/>
<rect x="801" y="149" width="1" height="37" fill="#f63c51"/>
<rect x="800" y="156" width="3" height="29" fill="#f63c51"/>
<rect x="801" y="157" width="1" height="27" fill="#d5354b"/>
<rect x="805" y="139" width="1" height="54" fill="#2fc98b"/>
<rect x="804" y="167" width="3" height="19" fill="#2fc98b"/>
<rect x="805" y="168" width="1" height="17" fill="#28a875"/>
<rect x="810" y="151" width="1" height="24" fill="#2fc98b"/>
<rect x="809" y="164" width="3" height="4" fill="#2fc98b"/>
<rect x="810" y="165" width="1" height="2" fill="#28a875"/>
<rect x="814" y="164" width="1" height="47" fill="#f63c51"/>
<rect x="813" y="164" width="3" height="37" fill="#f63c51"/>
<rect x="814" y="165" width="1" height="35" fill="#d5354b"/>
<rect x="818" y="197" width="1" height="27" fill="#f63c51"/>
<rect x="817" y="199" width="3" height="19" fill="#f63c51"/>
<rect x="818" y="200" width="1" height="17" fill="#d5354b"/>
<rect x="822" y="192" width="1" height="28" fill="#2fc98b"/>
<rect x="821" y="210" width="3" height="7" fill="#2fc98b"/>
<rect x="822" y="211" width="1" height="5" fill="#28a875"/>
<rect x="825" y="209" width="3" height="37" fill="#2fc98b"/>
<rect x="826" y="210" width="1" height="35" fill="#28a875"/>
<rect x="830" y="200" width="1" height="27" fill="#f63c51"/>
<rect x="829" y="200" width="3" height="8" fill="#f63c51"/>
<rect x="830" y="201" width="1" height="6" fill="#d5354b"/>
<rect x="835" y="188" width="1" height="23" fill="#2fc98b"/>
<rect x="834" y="191" width="3" height="14" fill="#2fc98b"/>
<rect x="835" y="192" width="1" height="12" fill="#28a875"/>
<rect x="839" y="186" width="1" height="10" fill="#2fc98b"/>
<rect x="838" y="189" width="3" height="4" fill="#2fc98b"/>
<rect x="839" y="190" width="1" height="2" fill="#28a875"/>
<rect x="843" y="185" width="1" height="29" fill="#f63c51"/>
<rect x="842" y="189" width="3" height="16" fill="#f63c51"/>
<rect x="843" y="190" width="1" height="14" fill="#d5354b"/>
<rect x="847" y="197" width="1" height="13" fill="#2fc98b"/>
<rect x="846" y="200" width="3" height="5" fill="#2fc98b"/>
<rect x="847" y="201" width="1" height="3" fill="#28a875"/>
<rect x="851" y="197" width="1" height="14" fill="#2fc98b"/>
<rect x="850" y="198" width="3" height="4" fill="#2fc98b"/>
<rect x="851" y="199" width="1" height="2" fill="#28a875"/>
<rect x="855" y="117" width="1" height="45" fill="#f63c51"/>
<rect x="854" y="117" width="3" height="4" fill="#f63c51"/>
<rect x="855" y="118" width="1" height="2" fill="#d5354b"/>
<rect x="860" y="71" width="1" height="60" fill="#2fc98b"/>
<rect x="859" y="78" width="3" height="47" fill="#2fc98b"/>
<rect x="860" y="79" width="1" height="45" fill="#28a875"/>
<rect x="864" y="64" width="1" height="18" fill="#2fc98b"/>
<rect x="863" y="64" width="3" height="15" fill="#2fc98b"/>
<rect x="864" y="65" width="1" height="13" fill="#28a875"/>
<rect x="868" y="24" width="1" height="45" fill="#2fc98b"/>
<rect x="867" y="24" width="3" height="42" fill="#2fc98b"/>
<rect x="868" y="25" width="1" height="40" fill="#28a875"/>
<rect x="2" y="25" width="8" height="1" fill="#4a5a66"/>
<rect x="10" y="25" width="182" height="1" fill="#19242b"/>
<rect x="192" y="25" width="740" height="1" fill="#4a5a66"/>
<rect x="134" y="18" width="1" height="14" fill="#1a252c"/>
<polygon points="931,26 938,18 990,18 990,34 938,34" fill="#44545f"/>
<polygon points="98,15 106,15 102,19.3" fill="#d5d8da"/>
<polygon points="174,17 182,17 178,21.3" fill="#d5d8da"/>
</g>
<g filter="url(#gaa)">
<text x="942.5" y="30.3" font-size="12" fill="#f2f4f5" font-weight="normal" stroke="#f2f4f5" stroke-width="0.55" >106.29</text>
<text x="942" y="59.65" font-size="12" fill="#d0d4d7" font-weight="normal" stroke="#d0d4d7" stroke-width="0.55" >105.56</text>
<text x="942" y="97.28999999999999" font-size="12" fill="#d0d4d7" font-weight="normal" stroke="#d0d4d7" stroke-width="0.55" >104.65</text>
<text x="942" y="134.93" font-size="12" fill="#d0d4d7" font-weight="normal" stroke="#d0d4d7" stroke-width="0.55" >103.74</text>
<text x="942" y="172.57" font-size="12" fill="#d0d4d7" font-weight="normal" stroke="#d0d4d7" stroke-width="0.55" >102.83</text>
<text x="942" y="210.21" font-size="12" fill="#d0d4d7" font-weight="normal" stroke="#d0d4d7" stroke-width="0.55" >101.92</text>
<text x="942" y="247.85" font-size="12" fill="#d0d4d7" font-weight="normal" stroke="#d0d4d7" stroke-width="0.55" >101.01</text>
<text x="942" y="285.49" font-size="12" fill="#d0d4d7" font-weight="normal" stroke="#d0d4d7" stroke-width="0.55" >100.10</text>
<text x="942" y="323.13" font-size="12" fill="#d0d4d7" font-weight="normal" stroke="#d0d4d7" stroke-width="0.55" >99.19</text>
<text x="942" y="360.77" font-size="12" fill="#d0d4d7" font-weight="normal" stroke="#d0d4d7" stroke-width="0.55" >98.28</text>
<text x="942" y="394" font-size="12" fill="#d0d4d7" font-weight="normal" stroke="#d0d4d7" stroke-width="0.55" >97.38</text>
<text x="5.3" y="407" font-size="12" fill="#d0d4d7" font-weight="normal" stroke="#d0d4d7" stroke-width="0.55" >02.09.2025</text>
<text x="73.89999999999999" y="407" font-size="12" fill="#d0d4d7" font-weight="normal" stroke="#d0d4d7" stroke-width="0.55" >21:00</text>
<text x="134.3" y="407" font-size="12" fill="#d0d4d7" font-weight="normal" stroke="#d0d4d7" stroke-width="0.55" >09.09</text>
<text x="170.9" y="407" font-size="12" fill="#d0d4d7" font-weight="normal" stroke="#d0d4d7" stroke-width="0.55" >17:00</text>
<text x="263.3" y="407" font-size="12" fill="#d0d4d7" font-weight="normal" stroke="#d0d4d7" stroke-width="0.55" >15.09</text>
<text x="299.90000000000003" y="407" font-size="12" fill="#d0d4d7" font-weight="normal" stroke="#d0d4d7" stroke-width="0.55" >20:00</text>
<text x="392.3" y="407" font-size="12" fill="#d0d4d7" font-weight="normal" stroke="#d0d4d7" stroke-width="0.55" >22.09</text>
<text x="428.90000000000003" y="407" font-size="12" fill="#d0d4d7" font-weight="normal" stroke="#d0d4d7" stroke-width="0.55" >16:00</text>
<text x="522.3" y="407" font-size="12" fill="#d0d4d7" font-weight="normal" stroke="#d0d4d7" stroke-width="0.55" >26.09</text>
<text x="558.9" y="407" font-size="12" fill="#d0d4d7" font-weight="normal" stroke="#d0d4d7" stroke-width="0.55" >19:00</text>
<text x="651.3" y="407" font-size="12" fill="#d0d4d7" font-weight="normal" stroke="#d0d4d7" stroke-width="0.55" >03.10</text>
<text x="687.9" y="407" font-size="12" fill="#d0d4d7" font-weight="normal" stroke="#d0d4d7" stroke-width="0.55" >15:00</text>
<text x="780.3" y="407" font-size="12" fill="#d0d4d7" font-weight="normal" stroke="#d0d4d7" stroke-width="0.55" >09.10</text>
<text x="816.9" y="407" font-size="12" fill="#d0d4d7" font-weight="normal" stroke="#d0d4d7" stroke-width="0.55" >18:00</text>
<text x="910.3" y="407" font-size="12" fill="#d0d4d7" font-weight="normal" stroke="#d0d4d7" stroke-width="0.55" >15.10</text>
<text x="946.9" y="407" font-size="12" fill="#d0d4d7" font-weight="normal" stroke="#d0d4d7" stroke-width="0.55" >04:00</text>
<text x="876.3" y="379.9" font-size="14" fill="#f28b00" font-weight="normal" stroke="#f28b00" stroke-width="0.2" >19</text>
<text x="892.6" y="379.9" font-size="14" fill="#a8b0b6" font-weight="normal" stroke="#a8b0b6" stroke-width="0.2" textLength="12.8" lengthAdjust="spacingAndGlyphs">m</text>
<text x="909.6" y="379.9" font-size="14" fill="#f28b00" font-weight="normal" stroke="#f28b00" stroke-width="0.2" >43</text>
<text x="926.6" y="379.9" font-size="14" fill="#a8b0b6" font-weight="normal" stroke="#a8b0b6" stroke-width="0.2" >s</text>
<text x="20" y="23" font-size="12.5" fill="#e6e8ea" font-weight="bold" stroke="#e6e8ea" stroke-width="0.4" textLength="46" lengthAdjust="spacingAndGlyphs">WMT.US</text>
<text x="70" y="21.8" font-size="8" fill="#8a9dab" font-weight="normal" stroke="#8a9dab" stroke-width="0.5" textLength="20" lengthAdjust="spacingAndGlyphs">Akcie</text>
<text x="147.3" y="24" font-size="10" fill="#d0d4d7" font-weight="bold" stroke="#d0d4d7" stroke-width="0.3" textLength="11.6" lengthAdjust="spacingAndGlyphs">H1</text>
</g>
</svg>
</body></html>
